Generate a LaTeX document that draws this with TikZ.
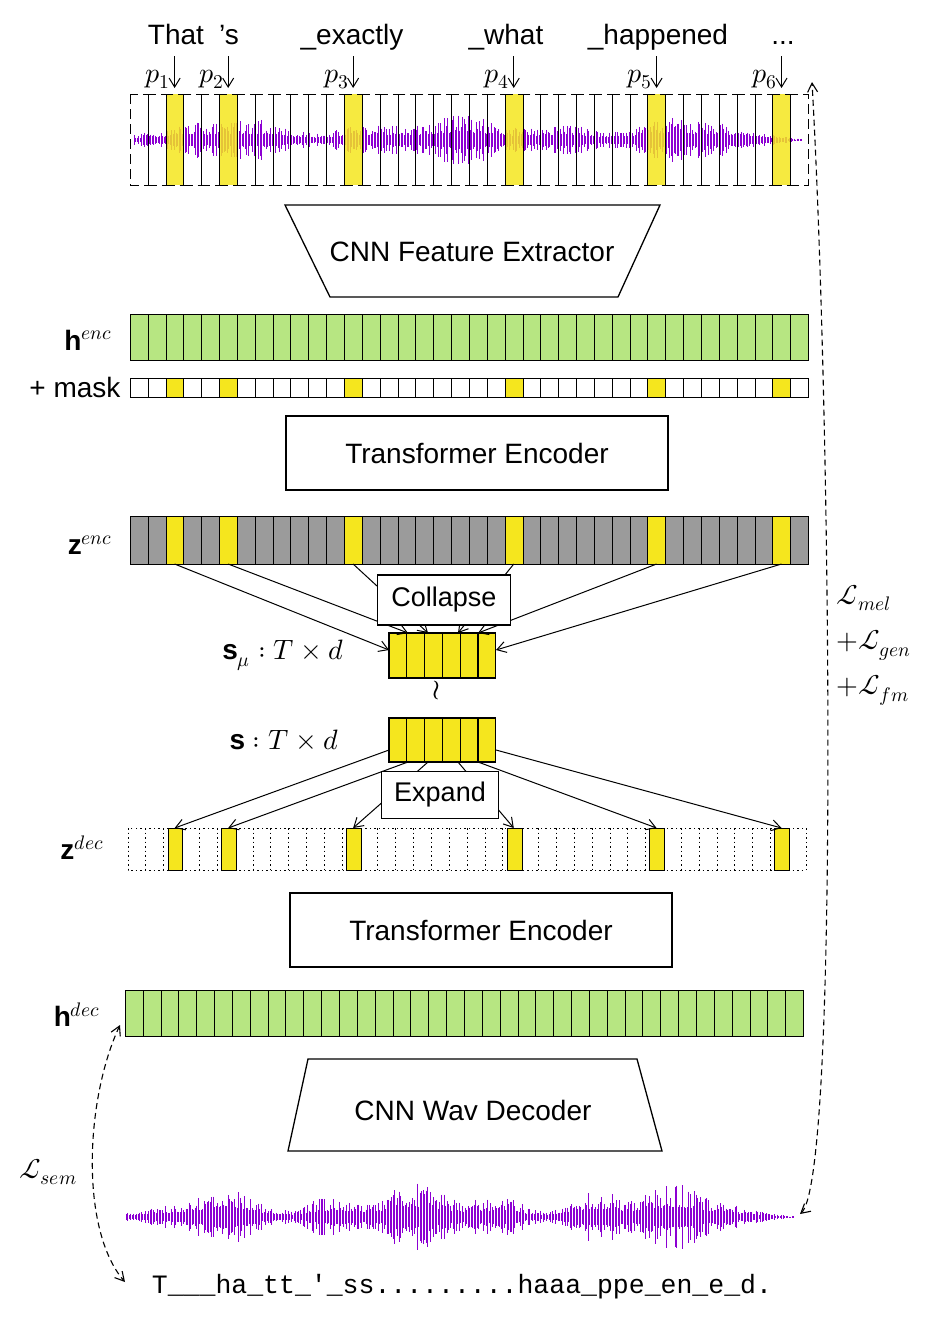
\documentclass[tikz,border=0pt]{standalone}
\usepackage{fontspec}
\setmainfont{Liberation Sans}
\setmonofont{Liberation Mono}
\usepackage{unicode-math}
\setmathfont{Latin Modern Math}
\usetikzlibrary{arrows.meta}
\definecolor{yel}{RGB}{245,230,30}
\definecolor{grn}{RGB}{183,230,130}
\definecolor{gry}{RGB}{155,155,155}
\definecolor{wav}{RGB}{140,0,210}
\newcommand{\cellw}{17.85}
\tikzset{x=1pt,y=-1pt,line width=1.1pt,
 boxlbl/.style={draw,line width=1.3pt,fill=white,font=\fontsize{27}{30}\selectfont,inner sep=0},
 arr/.style={-{Straight Barb[length=9pt,width=11pt]},line width=1pt},
 lbl/.style={font=\fontsize{28}{30}\selectfont},
 dar/.style={dash pattern=on 6pt off 4pt,line width=1.1pt,{Straight Barb[length=9pt,width=10pt]}-{Straight Barb[length=9pt,width=10pt]}}}
\begin{document}
\begin{tikzpicture}
\useasboundingbox (0,0) rectangle (926,1326);
% --- top waveform
\pgfmathsetseed{7}
\foreach \i in {0,...,445}{
  \pgfmathsetmacro\xx{134+1.5*\i}
  \pgfmathsetmacro\env{(\i<40?6+\i*0.25:(\i>400?max(1.5,(445-\i)*0.35):16+5*sin(\i*2.1)+4*sin(\i*5.3)))}
  \pgfmathsetmacro\h{\env*(0.3+0.7*rnd^1.5)}
  \draw[wav,line width=0.9pt] (\xx,140-\h) -- (\xx,140+\h);
}
\foreach \k in {2,5,12,21,29,36}{\fill[yel,opacity=0.85] (130+\k*\cellw,94) rectangle ++(\cellw,91);}
\foreach \k in {0,...,37}{\draw[dash pattern=on 10pt off 5pt] (130+\k*\cellw,94) rectangle ++(\cellw,91);}
\node (wtop) at (468,140) {};
% words
\foreach \t/\x in {That/176,'s/229,\_exactly/352,\_what/506,\_happened/658}
  \node[lbl,anchor=base] at (\x,44) {\t};
\node[lbl,anchor=base] (dots) at (783,44) {.{}.{}.};
\foreach \n/\k in {1/2,2/5,3/12,4/21,5/29,6/36}{
  \pgfmathsetmacro\cx{130+(\k+0.5)*\cellw}
  \draw[arr] (\cx,56) -- (\cx,88);
  \node[lbl,anchor=base east] at (\cx-1,82) {$p_{\n}$};
}
% CNN feature extractor
\draw[line width=1.3pt] (285,205) -- (660,205) -- (618,297) -- (330,297) -- cycle;
\node[lbl] (cfe) at (472,252) {CNN Feature Extractor};
% h enc
\foreach \k in {0,...,37}{\draw[fill=grn] (130+\k*\cellw,314) rectangle ++(\cellw,46);}
\node[lbl] (henc) at (88,340) {$\mathbf{h}^{enc}$};
\foreach \k in {0,...,37}{\draw[fill=white] (130+\k*\cellw,378) rectangle ++(\cellw,19);}
\foreach \k in {2,5,12,21,29,36}{\draw[fill=yel] (130+\k*\cellw,378) rectangle ++(\cellw,19);}
\node[lbl] at (75,387) {+ mask};
% transformer encoder
\node[draw,line width=1.3pt,minimum width=382,minimum height=74,lbl] (te1) at (477,453) {Transformer Encoder};
% z enc
\foreach \k in {0,...,37}{\draw[fill=gry] (130+\k*\cellw,516) rectangle ++(\cellw,48);}
\foreach \k in {2,5,12,21,29,36}{\draw[fill=yel] (130+\k*\cellw,516) rectangle ++(\cellw,48);}
\node[lbl] at (90,545) {$\mathbf{z}^{enc}$};
% s_mu
\foreach \j in {0,...,5}{\draw[line width=1.3pt,fill=yel] (389+\j*17.8,633) rectangle ++(17.8,45);}
\node (smu) at (442,655) {};
\node[lbl] at (283,655) {$\mathbf{s}_{\mu}:T\times d$};
% collapse arrows
\foreach \k/\tx/\ty in {2/389/650, 5/408/633, 12/428/633, 21/458/633, 29/478/633, 36/496/650}{
  \pgfmathsetmacro\cx{130+(\k+0.5)*\cellw}
  \draw[arr] (\cx,564) -- (\tx,\ty);
}
\node[boxlbl,minimum width=133,minimum height=50] (col) at (444,600) {Collapse};
\node[lbl] at (436,690) {$\wr$};
% s
\foreach \j in {0,...,5}{\draw[line width=1.3pt,fill=yel] (389+\j*17.8,718) rectangle ++(17.8,44);}
\node[lbl] at (284,740) {$\mathbf{s}:T\times d$};
% z dec
\foreach \k in {0,...,37}{\draw[dash pattern=on 1.5pt off 3pt,line width=0.9pt] (128+\k*\cellw,828) -- ++(0,42);}
\draw[dash pattern=on 1.5pt off 3pt,line width=0.9pt] (128,828) rectangle (806,870);
\foreach \k in {2,5,12,21,29,36}{\draw[fill=yel] (130+\k*\cellw+2,828) rectangle ++(\cellw-3,42);}
\node[lbl] at (82,848) {$\mathbf{z}^{dec}$};
% expand arrows
\foreach \k/\fx/\fy in {2/389/750, 5/408/762, 12/428/762, 21/458/762, 29/478/762, 36/496/750}{
  \pgfmathsetmacro\cx{130+(\k+0.5)*\cellw}
  \draw[arr] (\fx,\fy) -- (\cx,828);
}
\node[boxlbl,minimum width=117,minimum height=47] (exp) at (440,795) {Expand};
% transformer encoder 2
\node[draw,line width=1.3pt,minimum width=382,minimum height=74,lbl] (te2) at (481,930) {Transformer Encoder};
% h dec
\foreach \k in {0,...,37}{\draw[fill=grn] (125+\k*\cellw,990) rectangle ++(\cellw,46);}
\node[lbl] (hdec) at (77,1015) {$\mathbf{h}^{dec}$};
% CNN wav decoder
\draw[line width=1.3pt] (308,1059) -- (637,1059) -- (662,1151) -- (288,1151) -- cycle;
\node[lbl] (cwd) at (473,1110) {CNN Wav Decoder};
% bottom waveform
\pgfmathsetseed{11}
\foreach \i in {0,...,445}{
  \pgfmathsetmacro\xx{126+1.5*\i}
  \pgfmathsetmacro\env{(\i<40?4+\i*0.3:(\i>395?max(1,(445-\i)*0.3):20+8*sin(\i*2.3)+6*sin(\i*6.1)))}
  \pgfmathsetmacro\h{\env*(0.3+0.7*rnd^1.5)}
  \draw[wav,line width=0.9pt] (\xx,1217-\h) -- (\xx,1217+\h);
}
\coordinate (wbr) at (800,1214);
\node[font=\ttfamily\fontsize{26.5}{28}\selectfont] (txt) at (462,1287) {T\_\_\_ha\_tt\_'\_ss.........haaa\_ppe\_en\_e\_d.};
% loss arrows
\coordinate (rt) at (812,82);
\draw[dar] (wbr) .. controls (840,1180) and (830,400) .. (rt);
\node[lbl,anchor=west] at (833,598) {$\mathcal{L}_{mel}$};
\node[lbl,anchor=west] at (833,645) {$+\mathcal{L}_{gen}$};
\node[lbl,anchor=west] at (833,690) {$+\mathcal{L}_{fm}$};
\coordinate (lt) at (120,1025);
\coordinate (lb) at (125,1282);
\draw[dar] (lt) .. controls (85,1100) and (80,1230) .. (lb);
\node[lbl] at (48,1172) {$\mathcal{L}_{sem}$};
\end{tikzpicture}
\end{document}
